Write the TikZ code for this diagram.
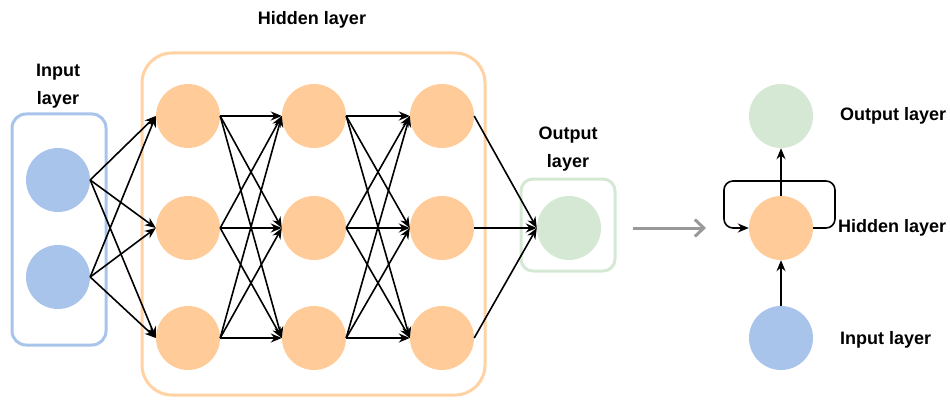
\documentclass[tikz,border=0pt]{standalone}
\usepackage{fontspec}
\setmainfont{Liberation Sans}
\usetikzlibrary{arrows.meta}
\definecolor{cblue}{HTML}{A9C4EB}
\definecolor{corange}{HTML}{FFCC99}
\definecolor{cgreen}{HTML}{D5E8D4}
\tikzset{
  neuron/.style={circle,minimum size=64pt,inner sep=0pt,draw=none},
  inb/.style={neuron,fill=cblue},
  hidb/.style={neuron,fill=corange},
  outb/.style={neuron,fill=cgreen},
  layerbox/.style={rounded corners=14pt,line width=3pt},
  conn/.style={draw=black,line width=1.6pt,-{Stealth[length=11pt,width=9pt]}},
  lbl/.style={font=\bfseries\fontsize{18}{28}\selectfont,align=center,inner sep=0pt},
}
\begin{document}
\begin{tikzpicture}[x=1pt,y=-1pt]
\useasboundingbox (0,0) rectangle (950,401);
% boxes
\draw[layerbox,draw=cblue] (12,114) rectangle (106,345);
\draw[layerbox,draw=corange!90!white,rounded corners=30pt] (142,53) rectangle (485,395);
\draw[layerbox,draw=cgreen,rounded corners=12pt] (521,179) rectangle (615,271);
% neurons
\node[inb] (i1) at (58,180) {};
\node[inb] (i2) at (58,277) {};
\foreach \c/\x in {1/188,2/314,3/442}{
  \node[hidb] (h\c1) at (\x,116) {};
  \node[hidb] (h\c2) at (\x,228) {};
  \node[hidb] (h\c3) at (\x,338) {};
}
\node[outb] (o) at (569,228) {};
% connections
\foreach \a in {1,2}{\foreach \b in {1,2,3}{\draw[conn] (i\a.east) -- (h1\b.west);}}
\foreach \a in {1,2,3}{\foreach \b in {1,2,3}{\draw[conn] (h1\a.east) -- (h2\b.west);}}
\foreach \a in {1,2,3}{\foreach \b in {1,2,3}{\draw[conn] (h2\a.east) -- (h3\b.west);}}
\foreach \a in {1,2,3}{\draw[conn] (h3\a.east) -- (o.west);}
% labels
\node[lbl] (ti) at (58,86) {Input\\layer};
\node[lbl] (th) at (312,20) {Hidden layer};
\node[lbl] (to) at (568,149) {Output\\layer};
% gray arrow
\coordinate (ga) at (633,228);
\coordinate (gb) at (706,228);
\draw[draw=black!40,line width=3pt,-{Straight Barb[length=9pt,width=17pt,line width=3pt]}] (ga) -- (gb);
% recurrent view
\node[outb] (ro) at (781,116) {};
\node[hidb] (rh) at (781,228) {};
\node[inb] (ri) at (781,338) {};
\draw[conn] (ri.north) -- (rh.south);
\draw[conn] (rh.north) -- (ro.south);
\draw[conn,rounded corners=9pt] (rh.east) -- (835,228) -- (835,181) -- (724,181) -- (724,228) -- (rh.west);
\node[lbl,anchor=west] (lo) at (840,116) {Output layer};
\node[lbl,anchor=west] (lh) at (838,228) {Hidden layer};
\node[lbl,anchor=west] (li) at (840,340) {Input layer};
\end{tikzpicture}
\end{document}
